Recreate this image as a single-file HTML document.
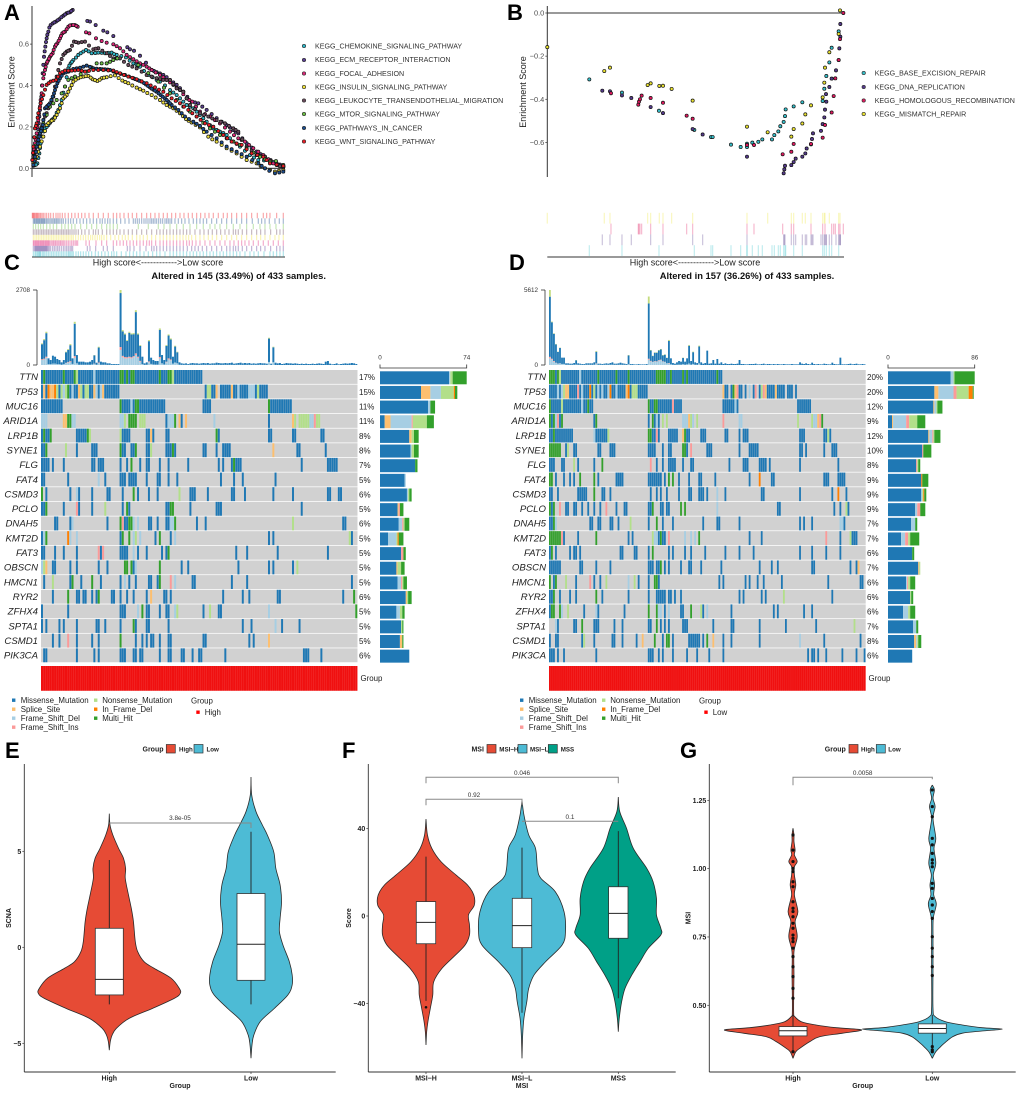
<!DOCTYPE html>
<html lang="en">
<head>
<meta charset="utf-8">
<title>Multi-panel enrichment, oncoplot and violin figure</title>
<style>
html,body{margin:0;padding:0;background:#fff;}
svg{display:block;font-family:"Liberation Sans",sans-serif;filter:blur(.3px);}
.letter{font-size:22px;font-weight:700;fill:#000;}
.leg{font-size:7.1px;fill:#333;}
.axt{font-size:9px;fill:#222;}
.tick{font-size:7.4px;fill:#4d4d4d;text-anchor:end;}
.onc{font-size:7.9px;fill:#222;}
.ttl{font-size:9.4px;font-weight:700;fill:#111;text-anchor:middle;}
.b7{font-size:7px;font-weight:700;fill:#222;}
.v6{font-size:6.2px;font-weight:700;fill:#222;}
.p{font-size:6.4px;fill:#333;text-anchor:middle;}
</style>
</head>
<body>
<svg id="fig" xmlns="http://www.w3.org/2000/svg" width="1020" height="1093" viewBox="0 0 1020 1093">
<rect width="1020" height="1093" fill="#fff"/>

<g>
<text class="letter" x="4" y="20">A</text>
<text class="letter" x="507" y="20">B</text>
<text class="letter" x="4" y="270">C</text>
<text class="letter" x="509" y="270">D</text>
<text class="letter" x="5" y="758">E</text>
<text class="letter" x="342" y="758">F</text>
<text class="letter" x="680" y="758">G</text>
</g>

<g id="panelA">
<text class="axt" transform="translate(14.5,92) rotate(-90)" text-anchor="middle">Enrichment Score</text>
<text class="axt" x="158" y="265.5" text-anchor="middle">High score&lt;------------&gt;Low score</text>
<g>
<text class="leg" x="315" y="48.5">KEGG_CHEMOKINE_SIGNALING_PATHWAY</text>
<text class="leg" x="315" y="62">KEGG_ECM_RECEPTOR_INTERACTION</text>
<text class="leg" x="315" y="76">KEGG_FOCAL_ADHESION</text>
<text class="leg" x="315" y="89.5">KEGG_INSULIN_SIGNALING_PATHWAY</text>
<text class="leg" x="315" y="103">KEGG_LEUKOCYTE_TRANSENDOTHELIAL_MIGRATION</text>
<text class="leg" x="315" y="116.5">KEGG_MTOR_SIGNALING_PATHWAY</text>
<text class="leg" x="315" y="130.5">KEGG_PATHWAYS_IN_CANCER</text>
<text class="leg" x="315" y="144">KEGG_WNT_SIGNALING_PATHWAY</text>
</g>
</g>

<g id="panelB">
<text class="axt" transform="translate(526,92) rotate(-90)" text-anchor="middle">Enrichment Score</text>
<text class="axt" x="695" y="265.5" text-anchor="middle">High score&lt;------------&gt;Low score</text>
<g>
<text class="leg" x="874.7" y="75.5">KEGG_BASE_EXCISION_REPAIR</text>
<text class="leg" x="874.7" y="89.5">KEGG_DNA_REPLICATION</text>
<text class="leg" x="874.7" y="103">KEGG_HOMOLOGOUS_RECOMBINATION</text>
<text class="leg" x="874.7" y="116.5">KEGG_MISMATCH_REPAIR</text>
</g>
</g>

<g id="panelC">
<text class="ttl" x="238.7" y="279">Altered in 145 (33.49%) of 433 samples.</text>
<text class="onc" x="360.5" y="681">Group</text>
<g>
<rect x="12" y="698.5" width="3.4" height="3.4" fill="#1F78B4"/>
<rect x="12" y="707.5" width="3.4" height="3.4" fill="#FDBF6F"/>
<rect x="12" y="716.5" width="3.4" height="3.4" fill="#A6CEE3"/>
<rect x="12" y="725.5" width="3.4" height="3.4" fill="#FB9A99"/>
<rect x="94" y="698.5" width="3.4" height="3.4" fill="#B2DF8A"/>
<rect x="94" y="707.5" width="3.4" height="3.4" fill="#FF7F00"/>
<rect x="94" y="716.5" width="3.4" height="3.4" fill="#33A02C"/>
<text class="onc" x="20.7" y="703">Missense_Mutation</text>
<text class="onc" x="20.7" y="712">Splice_Site</text>
<text class="onc" x="20.7" y="721">Frame_Shift_Del</text>
<text class="onc" x="20.7" y="730">Frame_Shift_Ins</text>
<text class="onc" x="102.2" y="703">Nonsense_Mutation</text>
<text class="onc" x="102.2" y="712">In_Frame_Del</text>
<text class="onc" x="102.2" y="721">Multi_Hit</text>
<text class="onc" x="191" y="703.5">Group</text>
<rect x="196.3" y="710.5" width="3.4" height="3.4" fill="#f00"/>
<text class="onc" x="204.7" y="715">High</text>
</g>
</g>

<g id="panelD">
<text class="ttl" x="747" y="279">Altered in 157 (36.26%) of 433 samples.</text>
<text class="onc" x="868.5" y="681">Group</text>
<g>
<rect x="520" y="698.5" width="3.4" height="3.4" fill="#1F78B4"/>
<rect x="520" y="707.5" width="3.4" height="3.4" fill="#FDBF6F"/>
<rect x="520" y="716.5" width="3.4" height="3.4" fill="#A6CEE3"/>
<rect x="520" y="725.5" width="3.4" height="3.4" fill="#FB9A99"/>
<rect x="602" y="698.5" width="3.4" height="3.4" fill="#B2DF8A"/>
<rect x="602" y="707.5" width="3.4" height="3.4" fill="#FF7F00"/>
<rect x="602" y="716.5" width="3.4" height="3.4" fill="#33A02C"/>
<text class="onc" x="528.7" y="703">Missense_Mutation</text>
<text class="onc" x="528.7" y="712">Splice_Site</text>
<text class="onc" x="528.7" y="721">Frame_Shift_Del</text>
<text class="onc" x="528.7" y="730">Frame_Shift_Ins</text>
<text class="onc" x="610.2" y="703">Nonsense_Mutation</text>
<text class="onc" x="610.2" y="712">In_Frame_Del</text>
<text class="onc" x="610.2" y="721">Multi_Hit</text>
<text class="onc" x="699" y="703.5">Group</text>
<rect x="704.3" y="710.5" width="3.4" height="3.4" fill="#f00"/>
<text class="onc" x="712.7" y="715">Low</text>
</g>
</g>

<g id="panelE">
<text class="b7" x="153" y="751.5" text-anchor="middle">Group</text>
<rect x="166.3" y="744.5" width="9" height="8.5" fill="#E64B35" stroke="#333" stroke-width=".7"/>
<text class="v6" x="179" y="751.3">High</text>
<rect x="194" y="744.5" width="9" height="8.5" fill="#4DBBD5" stroke="#333" stroke-width=".7"/>
<text class="v6" x="206.5" y="751.3">Low</text>
<text class="b7" x="180" y="1088" text-anchor="middle">Group</text>
<text class="b7" transform="translate(11,918) rotate(-90)" text-anchor="middle">SCNA</text>
</g>

<g id="panelF">
<text class="b7" x="477.7" y="751.5" text-anchor="middle">MSI</text>
<rect x="487" y="744.5" width="9" height="8.5" fill="#E64B35" stroke="#333" stroke-width=".7"/>
<text class="v6" x="499.3" y="751.3">MSI−H</text>
<rect x="518" y="744.5" width="9" height="8.5" fill="#4DBBD5" stroke="#333" stroke-width=".7"/>
<text class="v6" x="530" y="751.3">MSI−L</text>
<rect x="548.3" y="744.5" width="9" height="8.5" fill="#00A087" stroke="#333" stroke-width=".7"/>
<text class="v6" x="560.7" y="751.3">MSS</text>
<text class="b7" x="522" y="1088" text-anchor="middle">MSI</text>
<text class="b7" transform="translate(351,918) rotate(-90)" text-anchor="middle">Score</text>
</g>

<g id="panelG">
<text class="b7" x="835.3" y="751.5" text-anchor="middle">Group</text>
<rect x="849" y="744.5" width="9" height="8.5" fill="#E64B35" stroke="#333" stroke-width=".7"/>
<text class="v6" x="861" y="751.3">High</text>
<rect x="876.3" y="744.5" width="9" height="8.5" fill="#4DBBD5" stroke="#333" stroke-width=".7"/>
<text class="v6" x="888.3" y="751.3">Low</text>
<text class="b7" x="862.7" y="1088" text-anchor="middle">Group</text>
<text class="b7" transform="translate(690.5,918) rotate(-90)" text-anchor="middle">MSI</text>
</g>
</svg>

<script>
/* ---------- Panel A data: [gene rank, enrichment score] ---------- */
const chemokineScores=[[4,.013],[9,.016],[16,.024],[22,.072],[26,.121],[31,.153],[39,.193],[49,.209],[59,.233],[69,.25],[79,.282],[89,.33],[99,.395],[109,.483],[116,.507],[124,.523],[139,.548],[154,.564],[162,.572],[179,.556],[199,.559],[219,.556],[239,.559],[254,.548],[282,.536],[304,.507],[324,.491],[349,.451],[374,.427],[384,.419],[414,.378],[434,.354],[454,.322],[464,.306],[484,.29],[504,.258],[524,.225],[544,.193],[564,.177],[584,.161],[604,.129],[624,.105],[654,.064],[679,.04],[714,.035],[734,.024],[754,.008]];
const chemokineMore=[[12,.018],[19,.05],[24,.098],[35,.178],[44,.2],[54,.22],[64,.24],[74,.268],[84,.305],[94,.365],[104,.44],[112,.496],[120,.515],[132,.535],[146,.556],[170,.565],[190,.557],[209,.558],[229,.558],[246,.552],[268,.542],[293,.52],[314,.5],[336,.47],[362,.44],[399,.4],[424,.366],[444,.338],[474,.298],[494,.274],[514,.242],[534,.208],[554,.185],[574,.17],[594,.145],[614,.118],[639,.085],[666,.052],[696,.038],[724,.03],[744,.016]];
const ecmScores=[[4,.024],[8,.072],[12,.121],[16,.169],[20,.217],[24,.282],[28,.346],[32,.459],[36,.539],[40,.588],[44,.628],[49,.66],[56,.692],[62,.7],[72,.709],[82,.72],[94,.737],[104,.749],[114,.754],[122,.765],[166,.712],[174,.709],[191,.692],[214,.665],[226,.657],[244,.639],[286,.585],[294,.575],[306,.568],[324,.544],[359,.475],[374,.464],[394,.451],[414,.427],[434,.403],[454,.37],[479,.322],[499,.314],[524,.282],[554,.242],[584,.209],[604,.185],[619,.169],[644,.121],[674,.081],[699,.056],[734,.024],[754,.011]];
const ecmMore=[[10,.096],[14,.145],[18,.19],[22,.25],[26,.315],[30,.4],[34,.5],[38,.565],[42,.61],[46,.645],[52,.68],[67,.705],[77,.715],[88,.73],[99,.743],[109,.752],[118,.76],[342,.51],[366,.47],[384,.458],[404,.44],[424,.415],[444,.387],[466,.345],[489,.318],[511,.298],[539,.262],[569,.225],[594,.197],[611,.177],[631,.145],[659,.1],[686,.068],[716,.04],[744,.018]];
const focalScores=[[4,.072],[9,.121],[14,.169],[19,.233],[24,.298],[29,.362],[34,.435],[39,.475],[44,.507],[49,.523],[54,.539],[62,.556],[69,.588],[76,.604],[84,.628],[91,.652],[99,.66],[109,.684],[119,.692],[129,.692],[137,.684],[162,.657],[172,.652],[192,.628],[209,.615],[224,.607],[244,.599],[264,.58],[284,.548],[304,.527],[324,.507],[344,.491],[359,.475],[384,.451],[404,.427],[424,.403],[444,.378],[464,.338],[481,.322],[504,.274],[534,.25],[564,.217],[594,.177],[619,.145],[639,.129],[664,.097],[694,.064],[724,.024],[754,.008]];
const focalMore=[[6,.09],[11,.14],[16,.2],[21,.265],[26,.33],[31,.4],[36,.455],[41,.49],[46,.515],[51,.53],[58,.548],[65,.572],[72,.597],[80,.616],[87,.64],[95,.657],[104,.672],[114,.69],[124,.692],[133,.688],[254,.59],[274,.565],[294,.537],[314,.517],[334,.5],[352,.483],[371,.463],[394,.44],[414,.415],[434,.39],[454,.358],[472,.33],[492,.298],[519,.262],[549,.233],[579,.197],[606,.16],[629,.137],[651,.113],[679,.08],[709,.044],[739,.016]];
const insulinScores=[[4,.024],[14,.056],[24,.105],[34,.153],[44,.209],[54,.225],[64,.233],[74,.258],[84,.29],[94,.338],[104,.354],[114,.386],[124,.419],[139,.435],[154,.443],[169,.446],[182,.43],[196,.422],[209,.435],[224,.44],[249,.449],[271,.424],[289,.411],[314,.39],[334,.375],[359,.354],[384,.33],[404,.306],[424,.29],[444,.266],[462,.238],[479,.221],[504,.198],[529,.153],[554,.129],[584,.097],[614,.072],[644,.04],[674,.024],[699,0],[729,-.016],[754,-.008]];
const insulinMore=[[9,.04],[19,.08],[29,.13],[39,.18],[49,.218],[59,.23],[69,.245],[79,.274],[89,.314],[99,.346],[109,.37],[119,.402],[131,.428],[146,.44],[161,.445],[176,.438],[189,.426],[203,.428],[216,.438],[236,.445],[260,.436],[280,.417],[301,.4],[324,.382],[346,.364],[371,.342],[394,.318],[414,.298],[434,.278],[453,.252],[470,.23],[491,.21],[516,.175],[541,.14],[569,.113],[599,.085],[629,.056],[659,.032],[686,.012],[714,-.008],[741,-.012]];
const leukocyteScores=[[4,.056],[14,.105],[24,.169],[34,.233],[44,.266],[54,.314],[64,.346],[74,.443],[84,.507],[94,.548],[104,.564],[114,.572],[126,.612],[139,.607],[159,.612],[184,.575],[199,.58],[224,.556],[244,.531],[264,.531],[289,.499],[314,.483],[344,.451],[374,.435],[394,.427],[414,.427],[434,.386],[454,.37],[474,.306],[504,.266],[529,.25],[554,.233],[579,.217],[604,.193],[619,.177],[644,.105],[674,.064],[699,.056],[734,.016],[754,.005]];
const leukocyteMore=[[9,.08],[19,.137],[29,.2],[39,.25],[49,.29],[59,.33],[69,.395],[79,.475],[89,.528],[99,.556],[109,.568],[120,.592],[132,.61],[149,.61],[171,.593],[191,.578],[211,.568],[234,.543],[254,.531],[276,.515],[301,.491],[329,.467],[359,.443],[384,.431],[404,.427],[424,.406],[444,.378],[464,.338],[489,.286],[516,.258],[541,.241],[566,.225],[591,.205],[611,.185],[631,.14],[659,.085],[686,.06],[716,.036],[744,.01]];
const mtorScores=[[4,.072],[19,.153],[34,.217],[54,.298],[74,.33],[89,.362],[109,.427],[129,.443],[164,.467],[194,.507],[224,.507],[244,.523],[256,.531],[319,.499],[379,.419],[414,.362],[454,.298],[494,.25],[534,.193],[564,.161],[604,.129],[644,.097],[684,.056],[714,.032],[732,.035],[754,.016]];
const mtorMore=[[11,.11],[26,.185],[44,.258],[64,.314],[99,.395],[119,.435],[146,.455],[179,.487],[209,.507],[234,.515],[349,.46],[396,.39],[434,.33],[474,.274],[514,.22],[549,.177],[584,.145],[624,.113],[664,.076],[699,.044]];
const cancerScores=[[4,.016],[9,.056],[14,.105],[19,.137],[24,.169],[29,.193],[34,.233],[39,.29],[46,.301],[54,.314],[62,.346],[69,.378],[76,.411],[84,.435],[94,.459],[109,.467],[124,.48],[144,.486],[164,.496],[184,.483],[204,.48],[219,.478],[234,.475],[254,.462],[279,.451],[304,.435],[316,.427],[329,.419],[342,.405],[354,.391],[364,.38],[374,.37],[386,.354],[399,.338],[409,.322],[419,.306],[439,.282],[459,.25],[484,.225],[504,.205],[524,.177],[554,.145],[584,.105],[614,.08],[644,.056],[679,.024],[699,0],[712,-.012],[729,-.024],[742,-.02],[754,-.016]];
const cancerMore=[[7,.035],[12,.08],[17,.12],[22,.153],[27,.18],[32,.21],[37,.26],[43,.296],[50,.307],[58,.33],[66,.362],[73,.395],[80,.423],[89,.447],[101,.463],[116,.473],[134,.483],[154,.491],[174,.49],[194,.481],[211,.479],[227,.477],[244,.468],[266,.456],[291,.443],[310,.431],[322,.423],[336,.412],[348,.398],[359,.385],[369,.375],[380,.362],[392,.346],[404,.33],[414,.314],[429,.294],[449,.266],[471,.238],[494,.215],[514,.19],[539,.161],[569,.125],[599,.092],[629,.068],[661,.04],[689,.012]];
const wntScores=[[1,.04],[4,.105],[9,.193],[14,.217],[19,.266],[26,.314],[34,.354],[44,.403],[56,.419],[72,.427],[84,.459],[99,.472],[119,.472],[139,.475],[159,.467],[184,.475],[214,.475],[244,.472],[264,.459],[289,.443],[314,.43],[344,.411],[369,.391],[394,.37],[419,.338],[444,.314],[469,.282],[494,.25],[519,.217],[544,.201],[574,.161],[599,.129],[629,.113],[659,.072],[694,.056],[714,.024],[754,.011]];
const wntMore=[[3,.075],[7,.15],[12,.205],[17,.245],[23,.29],[30,.334],[39,.38],[50,.411],[64,.423],[78,.443],[91,.465],[109,.472],[129,.473],[149,.471],[171,.471],[199,.475],[229,.473],[254,.465],[276,.451],[301,.437],[329,.42],[356,.4],[381,.38],[406,.354],[431,.326],[456,.298],[481,.266],[506,.234],[531,.209],[559,.18],[586,.145],[614,.12],[644,.092],[676,.064],[704,.04],[734,.018]];
const seriesA=[chemokineScores.concat(chemokineMore),ecmScores.concat(ecmMore),focalScores.concat(focalMore),insulinScores.concat(insulinMore),leukocyteScores.concat(leukocyteMore),mtorScores.concat(mtorMore),cancerScores.concat(cancerMore),wntScores.concat(wntMore)];
const colorsA=["#2fb7c9","#5b3f92","#e0277a","#efe13c","#6a4a5c","#6cbf45","#1b4c8c","#ee1c25"];
const ticksA=[0,.2,.4,.6];

/* ---------- Panel B data ---------- */
const baseScores=[[126,-.308],[224,-.369],[335,-.453],[441,-.542],[491,-.575],[496,-.575],[551,-.61],[580,-.621],[599,-.606],[599,-.621],[615,-.601],[633,-.597],[645,-.586],[674,-.586],[681,-.566],[693,-.549],[699,-.525],[709,-.505],[713,-.478],[715,-.447],[739,-.433],[765,-.414],[826,-.408],[831,-.351],[837,-.292],[846,-.229],[853,-.161],[874,-.085]];
const dnaScores=[[165,-.36],[188,-.363],[224,-.382],[252,-.394],[310,-.436],[347,-.464],[436,-.538],[466,-.563],[599,-.666],[709,-.743],[711,-.725],[713,-.708],[732,-.705],[739,-.691],[745,-.675],[765,-.666],[774,-.651],[778,-.628],[791,-.609],[794,-.584],[797,-.558],[821,-.546],[826,-.515],[831,-.484],[833,-.448],[837,-.411],[836,-.376],[846,-.343],[853,-.304],[866,-.266],[874,-.218],[876,-.164],[879,-.11],[879,-.051]];
const hrScores=[[191,-.372],[273,-.425],[275,-.411],[278,-.4],[283,-.383],[310,-.394],[347,-.416],[418,-.476],[436,-.49],[599,-.612],[620,-.612],[706,-.655],[732,-.643],[739,-.607],[791,-.607],[826,-.578],[833,-.519],[853,-.461],[859,-.385],[864,-.303],[874,-.218],[878,-.121],[888,0]];
const mismatchScores=[[0,-.158],[171,-.269],[188,-.253],[301,-.334],[310,-.326],[336,-.338],[347,-.337],[373,-.352],[436,-.406],[599,-.527],[661,-.553],[732,-.573],[739,-.538],[765,-.512],[774,-.47],[791,-.428],[826,-.391],[831,-.323],[833,-.253],[846,-.182],[874,-.097],[878,.012]];
const seriesB=[baseScores,dnaScores,hrScores,mismatchScores];
const colorsB=["#35bfca","#553a8c","#e0195f","#ebe331"];
const ticksB=[0,-.2,-.4,-.6];

/* ---------- Oncoplot data ---------- */
const genes=["TTN","TP53","MUC16","ARID1A","LRP1B","SYNE1","FLG","FAT4","CSMD3","PCLO","DNAH5","KMT2D","FAT3","OBSCN","HMCN1","RYR2","ZFHX4","SPTA1","CSMD1","PIK3CA"];
const pctC=[17,15,11,11,8,8,7,5,6,5,6,5,5,5,5,6,5,5,5,6];
const pctD=[20,20,12,9,12,10,8,9,9,9,7,7,6,7,6,6,6,7,8,6];
const typeOrder=["b","o","l","r","n","d","g"];
const typeColors={b:"#1F78B4",o:"#FDBF6F",l:"#A6CEE3",r:"#FB9A99",n:"#B2DF8A",d:"#FF7F00",g:"#33A02C"};

const matrixC=[
"b0 g1 b2-9 g10 b11-14 g15 n16 b17-23 l24 b25-35 g36-37 b38 g39 b40 g41-42 b43-53 g54 b55-57 g58-59 n60 b61-73",
"b0 o1 b2 d3 o4-5 d6 n7 b8 n9 l10 n11 g12 b13 l14 b15-16 o17 n18 b19 n20-21 b22-23 o24 l25 b26 l27 o28 b29-35 b75 n76-77 b78-79 o80 b82-86 o87 b88-89 l90 b91-94 l95-97 b98 n99 b100-103",
"b0-9 g36 b37-40 l41 b42 g43-44 b45-56 b74-77 g104 b105-114",
"l0-2 o10-11 g12-13 l14-15 l36-37 n38 g40-43 n45-47 b57 l58-60 g61 o63 b64 o66 l79 b104 o115 n116 n118-122 l123-124 r125 n126-127",
"b0 g1 b2-3 g4 b16-20 g21 n22 n36 b37-40 b48-49 o50 b51 b57-58 g80 b81 b104-105 b115-116 b128-129",
"b0-1 g2 n11 b16 b23-25 g36 b37-38 b41-42 g43 b48-49 n50 b57-58 b59 g60 b61 b74-75 b80 b83-86 o106 b117-118 b130",
"b0-3 b5 b10 b23-24 b26-28 b36 b39 g41 b45 b48-49 b54 b58 b67 b81 b83 b87 g88 b89-91 b119 b131-135",
"b0-1 b12 l26 b29 b36-38 b40-43 b48 b53-54 b58 b62 b82 b88 b92 b107",
"g0 b2 b13 l16 b17 b23 b30-31 b37 g42 b44 b49 b53 n63 b68-70 b76 b87-88 b93 b106 b115 b131-132 b136-137",
"b0-1 g2 b10 r16 b17 b23 n29 b37 g39 b40 b57-58 g59-60 b68 b80-82 b119",
"b6-7 b13 l14 b30 g36 r37 b38-39 g40-41 l42 l44 b49-50 b53 b57-58 l59-60 g61 b71 b75 n115 b138-139",
"b0 l1 g2 d12 l13 l16 b36 g37 g40 l42 n43 l45 b52 g54 b59 l61 b104 b106 n141 b142",
"b0-1 b6 b10 b16 r26 b27 r28 b36-39 l42 b44 b48 b55 b57 g58 b89 b94 b108 b131",
"l0 n1 o2 b5-6 b13 b16 b26 b30 g38-39 g41 b42 l43 g54 b64 b67 b90 b104 b106 b115 n117",
"b1 n5 b13 g14 b18 g23 b27 b36 l38 b40 b43 b49-50 b53 g54 r59 l61 b69-70 b87 b94 b142",
"b5 g12 b16-17 b19-20 b23 b25 g26 b32-33 b36 b39 b42 b48 o50 b56-57 b59 b83 b92 b95 b108-109 b138 g143",
"b0 b12 b36-38 l44 g46 b48-49 b54 b57-58 l61 n62 b74 n77 b81-82 l104 g144",
"b0 b2 b8 b10 b16 b25-26 b29 b36 g42 b43 b48-49 b58 b92 b96 l107 b110 b118",
"b5 b8 r12 b16 b23 b26 g36 b43 b46 b48 b50-51 b54 b58-59 b74-75 b95 b97 o104",
"b1-2 b16 b24 b26 b36-38 b42-43 b45-46 b54 b58-59 b64-65 b69 b72-73 b84 b120-122 b128"
];
const matrixD=[
"g0-2 b3 g4 n5 b6-14 l15 b16-23 g24 b25-32 g33 b34-38 g39 b40-52 g53-57 b58-59 g60 b61-65 g66 b67 g68 b69-82 g83 b84-85",
"b0-3 l4 b5 l6 n7 o8-9 b10-13 r14 b15 l16 b17-19 d20 b21 n22 b23 l24 b25 l26 b27-28 l29 d30 b31-32 l33 b34-37 o38 d39 b40 n41-43 b44-48 o86 b87-88 b90 g91 o92 r93 b94-95 b97 l99 b101 r102 b104 n105 r106 o107 b108-111 o112 b113-116 b118-120 b122",
"g0 b1-5 n6 b7-15 l16 b17-18 g19 b20-21 g49 b50-51 g52-53 b54-60 r61 b62-65 b86-91 l92 b93 b123-129",
"g0 b1 g2 l3 r4 b5 g6 b22 g23 b49 g51 b52 l53 b54 n56 n58 l66-68 o69 n70 l71 n73 r86 l94-95 n123 n130 l131-132 o133 r134 g135",
"b0-1 g2 b3-11 l22 b23 b24-28 n29 g49-50 b51-52 r53 b54 b59-63 o66 g67 b68-69 b75-77 b87-88 b94 b96-98 b124-126 b136-137 n138 b139",
"g0-5 b8 n9 b12-13 b24-25 b30-32 b49-52 b56 b59-60 g66-67 b68 r70 b78-80 b94 b99-103 b124-125 b127 b136 b140-142",
"b0-2 b6-7 n12 b14 b22 g26 r50 b53 b56 b59-62 b66 b70-71 b89 b96-98 b104-107 b109 b124 b143",
"g0-1 b3 b7 b10 b12 g15 g22 b24 b33-36 b49-55 b57 g59 g61 b64 b69 b74-75 b82 b99 d104 b110-111 b136-138 b143-146",
"b0-1 b4 b14-18 g22 b26-27 b30 b50 b53 b55 b58 b64 b69-70 b74-76 b78 l83 b87 b105-106 b124 b140 d143 b147",
"g0 b1 g2 r5 b8-9 b12-13 b16 b19 b22 b25 r28 b33 b37-38 b49-50 g51 b55-56 b58-59 g65 g67 l83 b113-114 b141 b144 n147 b148",
"b0-1 g2 l3 b20-21 b24-25 b30-31 b34 n40 b49 g53 b56 b61 b76 b83-84 b94 b124 b126 b130 l144-145 b146",
"g0-5 r6 b7 b14 g23 b39 b41 n51 l52-53 b54 g55 b56-57 r59 l67 l70 l72 g74 b99 b105 r137 b144 n149 b150-152",
"b0 g1 b3 b10 b12-13 b15 b35-36 b42-43 b49 g51 b59 b61 b67 b70 b77 b87 b94 b101 b124 b130 b137 b144",
"b0-5 b15-16 b23 b30 b49-51 b53-54 g55 b57 b59 b65 b69-70 b75 b85 b104 b110 b113 b130-131 b149 b152 o153",
"g0 b2 g3 n8 b13 r20 b22 b25 n28 l39 n42 b44 b49 g52-53 b54 b84 b86 b97 b99 b103 b106 b115 b138 b154-155",
"b0-1 g2 b5 b10 b13 g23 b26 b39 b49 b53-57 b59-60 b62 b65 b94 b96 b105 b107 n116 b140",
"b0 g1-2 g5 l6 n9 b17 l23 b24 b37 g49 g53 l54-55 b57 l59 b65-66 g70 n75 b76 l78 b90 b111 b113 b126 b130",
"l3 b4 b12-13 g16 b22-24 b32 b36 b49-50 g53 b55 b57 b59 b66-68 b81 b90-91 b104 b117 b132 n151",
"b0 b3-4 b16 n17 b22 b31-32 b36 b43 o46 g52 b56 g58-59 b61 b69-74 b76 g78 o81 b86 b90 b104 l124 b136 b154",
"b0-2 b4 b7 b23 b49-51 b54 b56 b61 b68 b73 b79 b86 b128 b130-131 b133 b137 b145 b152 b156"
];

/* gene totals per type: missense, splice, fs-del, fs-ins, nonsense, in-frame, multi-hit */
const geneStackC=[[59,0,1,0,2,0,12],[35,8,9,0,11,1,2],[41,0,2,0,0,0,4],[4,5,18,1,12,0,6],[25,2,0,0,2,0,4],[26,0,1,0,2,0,4],[30,0,0,0,0,0,2],[21,0,1,0,0,0,0],[23,0,1,0,1,0,2],[15,1,0,1,0,0,3],[16,0,3,1,1,0,4],[7,0,7,0,1,1,4],[18,0,0,2,0,0,2],[14,1,0,0,3,0,3],[15,0,3,1,1,0,3],[22,1,0,0,1,0,3],[14,0,3,0,2,0,2],[18,0,0,0,1,0,1],[17,2,0,0,0,0,1],[25,0,0,0,0,0,0]];
const geneStackD=[[62,0,3,0,1,0,20],[46,4,15,3,12,4,1],[45,1,2,0,1,0,5],[4,1,13,3,8,0,8],[40,1,3,1,1,0,6],[34,0,0,1,0,0,8],[28,0,0,1,1,0,2],[33,0,0,0,0,1,6],[33,0,1,0,1,1,2],[27,0,2,3,0,0,5],[23,0,4,0,0,0,2],[13,0,4,3,2,0,9],[24,0,0,0,0,0,2],[30,1,0,0,1,0,0],[18,0,1,1,2,0,5],[22,0,0,0,1,0,2],[15,0,5,0,2,0,5],[25,0,3,0,0,0,2],[26,2,1,0,1,0,3],[24,0,0,0,0,0,0]];

/* per-sample mutation burden: total, frame-shift deletions, frame-shift insertions, capped minor classes */
const tmbC=[780,936,1200,240,180,336,300,216,180,96,180,480,576,756,240,1560,360,120,120,120,96,96,120,180,360,84,660,120,96,96,60,60,36,36,36,36,2708,1260,1140,900,1200,1140,1152,1980,1140,720,300,60,96,900,264,180,144,144,1320,360,180,720,1104,960,300,696,480,96,60,48,60,36,60,72,60,60,48,60,72,60,72,48,60,60,84,72,60,60,72,60,72,84,48,60,72,84,60,72,60,72,48,60,48,60,72,60,60,48,984,48,660,84,60,72,36,48,72,60,60,48,60,48,36,48,36,48,36,36,48,36,48,60,48,36,120,144,48,24,36,60,24,36,48,60,48,60,72,60,36];
const fsdC=[180,200,260,30,30,50,50,30,30,10,30,70,90,110,40,260,60,10,10,10,10,10,10,20,40,10,70,10,10,10,5,5,5,5,5,5,540,280,240,240,260,240,280,360,260,120,30,5,10,100,40,20,15,15,240,60,20,100,200,170,50,90,60,10,5,5,5,5,5,5,5,5,5,5,5,5,5,5,5,5,5,5,5,5,5,5,5,5,5,5,5,5,5,5,5,5,5,5,5,5,5,5,5,5,110,5,100];
const fsiC=[30,30,40,0,0,0,0,0,0,0,0,10,20,30,0,60,0,0,0,0,0,0,0,0,10,0,20,0,0,0,0,0,0,0,0,0,110,50,50,40,40,40,40,60,40,30,0,0,0,30,0,0,0,0,50,0,0,20,40,30];
const capC=[30,40,50,0,0,0,0,0,0,0,0,20,30,40,0,70,0,0,0,0,0,0,0,0,10,0,30,0,0,0,0,0,0,0,0,0,110,50,40,30,40,40,40,70,40,30,0,0,0,40,0,0,0,0,50,0,0,30,40,40,0,30,20,0,0,0,0,0,0,0,0,0,0,0,0,0,0,0,0,0,0,0,0,0,0,0,0,0,0,0,0,0,0,0,0,0,0,0,0,0,0,0,0,0,30,0,20];
const tmbD=[5612,3250,2375,1575,1000,1300,550,550,125,125,100,100,150,375,125,100,75,75,125,125,125,125,200,1050,100,100,75,100,125,100,150,200,100,100,125,175,125,100,75,750,75,75,50,50,75,50,50,50,75,5125,1125,700,950,950,1125,1200,750,800,550,1875,500,150,100,200,300,250,550,250,500,1500,300,1000,200,150,1450,200,100,150,1075,100,125,375,100,450,100,200,75,125,75,75,100,75,75,100,375,75,75,50,50,75,75,75,100,50,50,75,100,50,75,75,50,75,50,75,50,50,75,50,50,50,75,50,50,50,200,100,75,125,75,50,175,75,50,75,50,50,100,75,50,50,175,75,50,50,550,50,50,50,75,100,50,75,100,50,50,75,50];
const fsdD=[500,400,250,150,100,120,80,80,20,20,15,15,20,40,15,15,10,10,15,15,15,15,25,100,15,15,10,15,15,15,20,25,15,15,15,20,15,15,10,60,10,10,8,8,10,8,8,8,10,400,270,220,260,240,320,360,240,220,130,120,50,15,10,20,30,25,60,25,50,110,30,80,20,15,120];
const fsiD=[110,70,50,20,10,10,0,0,0,0,0,0,0,0,0,0,0,0,0,0,0,0,0,20,0,0,0,0,0,0,0,0,0,0,0,0,0,0,0,0,0,0,0,0,0,0,0,0,0,70,40,20,30,30,40,40,30,20,0,30];
const capD=[500,50,40,30,20,20,0,0,0,0,0,0,0,20,0,0,0,0,0,0,0,0,0,60,0,0,0,0,0,0,0,0,0,0,0,0,0,0,0,30,0,0,0,0,0,0,0,0,0,520,40,30,30,30,40,40,30,30,20,80,0,0,0,0,0,0,20,0,0,60,0,40,0,0,60];

/* ---------- Violin data: value grid + relative density + five-number summaries ---------- */
const eHighY=[6.96,6.37,5.85,5.16,4.64,4.11,3.59,2.73,2.03,1.34,.3,-.23,-.75,-1.09,-1.61,-2.14,-2.4,-2.66,-3.18,-3.7,-4.22,-4.57,-4.91,-5.36];
const eHighD=[0,.01,.05,.13,.2,.23,.225,.27,.31,.34,.366,.4,.49,.63,.87,.986,1,.915,.61,.28,.1,.04,.014,0];
const eLowY=[8.87,7.93,7.07,6.37,5.85,4.98,4.11,3.25,2.38,1.51,.82,.12,-.75,-1.44,-1.96,-2.48,-3.18,-3.87,-4.57,-5.09,-5.78];
const eLowD=[0,.01,.07,.16,.23,.32,.35,.41,.43,.41,.4,.45,.54,.58,.58,.52,.33,.13,.04,.014,0];
const eBoxHigh=[-2.97,-2.48,-1.67,.99,4.55];
const eBoxLow=[-2.97,-1.72,.16,2.8,6.02];
const eTicks=[5,0,-5];

const fHY=[44.4,37.1,31,24.9,18.8,14.2,9.6,5,.5,-4.1,-8.7,-13.3,-17.9,-24,-30.1,-36.2,-42.3,-48.4,-53,-59.1];
const fHD=[0,.03,.12,.31,.62,.86,.99,1,.88,.9,.9,.81,.61,.33,.16,.14,.09,.04,.014,0];
const fLY=[53.1,46.3,37.1,31,21.8,17.3,11.1,2,-7.2,-13.3,-20.9,-27,-33.1,-39.2,-46.9,-54.5,-65.2];
const fLD=[0,.04,.14,.28,.32,.39,.69,.87,.9,.83,.49,.25,.14,.1,.04,.014,0];
const fSY=[54.5,47.8,40.2,31,21.8,15.7,8.1,.5,-5.6,-8.7,-14.8,-20.9,-27,-33.1,-39.2,-46.9,-53];
const fSD=[0,.03,.17,.31,.59,.72,.79,.79,.88,.88,.62,.45,.28,.14,.07,.02,0];
const fBoxH=[-38.9,-12.7,-2.9,6.6,27.2];
const fBoxL=[-44.3,-14.5,-4.4,8.1,31.3];
const fBoxS=[-37.7,-10.2,1.2,13.4,38.9];
const fOutliersH=[-41.8];
const fTicks=[40,0,-40];

const gHY=[1.148,1.123,1.099,1.068,1.05,1.026,1.007,.977,.94,.904,.843,.806,.751,.696,.611,.538,.471,.459,.44,.428,.418,.41,.398,.385,.367,.343,.33,.306];
const gHD=[0,.014,.014,.03,.02,.06,.02,.02,.04,.02,.07,.03,.06,.014,.014,.01,.01,.024,.12,.33,.62,.98,.71,.38,.24,.1,.04,0];
const gLY=[1.306,1.288,1.257,1.227,1.184,1.111,1.074,1.02,.977,.94,.904,.87,.818,.745,.635,.489,.459,.44,.428,.418,.413,.406,.398,.385,.361,.349,.33,.306];
const gLD=[0,.03,.01,.04,.01,.05,.024,.05,.014,.033,.02,.057,.014,.01,.01,.01,.04,.19,.43,.71,1,.71,.43,.29,.17,.12,.05,0];
const gBoxH=[.33,.388,.407,.422,.465];
const gBoxL=[.33,.398,.415,.432,.465];
const gOutliersH=[1.123,1.068,1.026,1.001,.989,.952,.934,.879,.855,.843,.824,.8,.782,.757,.745,.733,.709,.678,.641,.605,.562,.526,.33];
const gOutliersL=[1.288,1.227,1.19,1.111,1.087,1.056,1.032,1.02,1.007,.946,.928,.891,.867,.843,.818,.751,.709,.678,.641,.609,.349,.337,.33];
const gTicks=[1.25,1,.75,.5];

/* ---------- helpers ---------- */
const NS="http://www.w3.org/2000/svg";
function add(parent,tag,attrs,txt){
  const el=document.createElementNS(NS,tag);
  for(const k in attrs){el.setAttribute(k,attrs[k]);}
  if(txt!==undefined){el.textContent=txt;}
  parent.appendChild(el);
  return el;
}
function fmtMinus(s){return String(s).replace("-","−");}

/* ---------- enrichment panels ---------- */
function drawEnrichment(root,series,colors,ticks,xOf,yOf,axisX,rugTop,rugH,rugOrderTop,zeroFrom,zeroTo,legendX,legendYs,rugOpacity){
  const yAxis=add(root,"line",{x1:axisX,x2:axisX,y1:6,y2:177,stroke:"#333","stroke-width":1});
  
  
  const zero=add(root,"line",{x1:zeroFrom,x2:zeroTo,y1:yOf(0),y2:yOf(0),stroke:"#333","stroke-width":1.1});
  
  
  ticks.forEach(t=>{
    const tm=add(root,"line",{x1:axisX-2,x2:axisX,y1:yOf(t),y2:yOf(t),stroke:"#333","stroke-width":.7});
    
    
    const lb=add(root,"text",{class:"tick",x:axisX-3,y:yOf(t)+2.6},fmtMinus(t.toFixed(1)));
    
    
  });
  const base=add(root,"line",{x1:zeroFrom,x2:zeroTo,y1:257,y2:257,stroke:"#333","stroke-width":1});
  
  
  series.forEach((s,i)=>{
    const row=rugOrderTop[i];
    s.forEach(p=>{
      const tk=add(root,"rect",{x:xOf(p[0])-.6,y:rugTop+row*rugH,width:1.2,height:rugH,fill:colors[i],opacity:rugOpacity});
      
      
    });
  });
  series.forEach((s,i)=>{
    s.forEach(p=>{
      const c=add(root,"circle",{cx:xOf(p[0]),cy:yOf(p[1]),r:1.6,fill:colors[i],stroke:"#111","stroke-width":.7});
      
      
    });
  });
  legendYs.forEach((ly,i)=>{
    const k=add(root,"circle",{cx:legendX,cy:ly,r:1.7,fill:colors[i],stroke:"#333","stroke-width":.7});
    
    
  });
}
const xA=r=>32+r/760*253.3, yA=e=>168.3-e*207;
const xB=r=>547.3+r/890*296.7, yB=e=>13-e*215.7;
drawEnrichment(document.getElementById("panelA"),seriesA,colorsA,ticksA,xA,yA,32,212.8,5.5,[7,6,5,4,3,2,1,0],32,285,304,[46,60,73.5,87,100.5,114,128,141.5],.38);
drawEnrichment(document.getElementById("panelB"),seriesB,colorsB,ticksB,xB,yB,547.3,212.8,10.8,[3,2,1,0],547.3,844,863.7,[73,87,100.5,114],.3);

/* ---------- oncoplots ---------- */
function drawOnco(root,matrix,stacks,pcts,tmb,fsd,fsi,cap,n,x0,x1,axX,maxTmb,barX,barMax,barW,pctX){
  const w=(x1-x0)/n, pitch=14.65, top=370;
  const yBar=v=>365-v/maxTmb*75;
  tmb.forEach((v,i)=>{
    const f=fsd[i]||0, s=fsi[i]||0, c=cap[i]||0, x=x0+i*w;
    const b1=add(root,"rect",{x:x,y:yBar(f),width:w-.2,height:365-yBar(f),fill:"#A6CEE3"});
    
    
    if(s>0){
      const b0=add(root,"rect",{x:x,y:yBar(f+s),width:w-.2,height:yBar(f)-yBar(f+s),fill:"#FB9A99"});
      
      
    }
    const b2=add(root,"rect",{x:x,y:yBar(v-c),width:w-.2,height:Math.max(0,yBar(f+s)-yBar(v-c)),fill:"#1F78B4"});
    
    
    if(c>0){
      const b3=add(root,"rect",{x:x,y:yBar(v),width:w-.2,height:yBar(v-c)-yBar(v),fill:"#C4DC7E"});
      
      
    }
  });
  [[290,maxTmb],[365,0]].forEach(t=>{
    const tm=add(root,"line",{x1:axX-4,x2:axX,y1:t[0],y2:t[0],stroke:"#333","stroke-width":.8});
    
    
    const tl=add(root,"text",{x:axX-7,y:t[0]+2.2,"font-size":"6.3px",fill:"#333","text-anchor":"end"},t[1]);
    
    
  });
  const axl=add(root,"line",{x1:axX,x2:axX,y1:290,y2:365,stroke:"#333","stroke-width":.8});
  
  

  genes.forEach((g,ri)=>{
    const y=top+ri*pitch;
    const bg=add(root,"rect",{x:x0,y:y,width:x1-x0,height:13.9,fill:"#d1d1d1"});
    
    
    matrix[ri].split(" ").forEach(tok=>{
      const type=tok[0], rng=tok.slice(1).split("-"), a=+rng[0], b=rng.length>1?+rng[1]:a;
      for(let c=a;c<=b;c++){
        const cell=add(root,"rect",{x:x0+c*w,y:y,width:w-.22,height:13.9,fill:typeColors[type]});
        
        
      }
    });
    const lab=add(root,"text",{x:x0-3,y:y+10.2,"font-size":"9.6px","font-style":"italic",fill:"#222","text-anchor":"end"},g);
    
    
    const pl=add(root,"text",{x:pctX,y:y+10.2,"font-size":"8px",fill:"#222"},pcts[ri]+"%");
    
    
    let acc=0;
    stacks[ri].forEach((v,ti)=>{
      if(v>0){
        const seg=add(root,"rect",{x:barX+acc/barMax*barW,y:y+1.3,width:v/barMax*barW,height:13,fill:typeColors[typeOrder[ti]]});
        
        
      }
      acc+=v;
    });
  });
  const ax=add(root,"path",{d:`M${barX} 364.5V368H${barX+barW}V364.5`,fill:"none",stroke:"#333","stroke-width":.8});
  
  
  [[barX,0],[barX+barW,barMax]].forEach(t=>{
    const tl=add(root,"text",{x:t[0],y:359.5,"font-size":"6.3px",fill:"#333","text-anchor":"middle"},t[1]);
    
    
  });
  const gbg=add(root,"rect",{x:x0,y:666,width:x1-x0,height:24.7,fill:"#f56a6a"});
  
  
  for(let i=0;i<n;i++){
    const gc=add(root,"rect",{x:x0+i*w,y:666,width:w-.15,height:24.7,fill:"#f01010"});
    
    
  }
}
drawOnco(document.getElementById("panelC"),matrixC,geneStackC,pctC,tmbC,fsdC,fsiC,capC,145,41,357.5,37,2708,380,74,86.7,359);
drawOnco(document.getElementById("panelD"),matrixD,geneStackD,pctD,tmbD,fsdD,fsiD,capD,157,549,865.7,545,5612,888,86,86.7,867);

/* ---------- violins ---------- */
function smoothSide(pts){
  let d="";
  for(let i=0;i<pts.length-1;i++){
    const p0=pts[Math.max(0,i-1)],p1=pts[i],p2=pts[i+1],p3=pts[Math.min(pts.length-1,i+2)];
    d+=`C${(p1[0]+(p2[0]-p0[0])/6).toFixed(2)} ${(p1[1]+(p2[1]-p0[1])/6).toFixed(2)} ${(p2[0]-(p3[0]-p1[0])/6).toFixed(2)} ${(p2[1]-(p3[1]-p1[1])/6).toFixed(2)} ${p2[0].toFixed(2)} ${p2[1].toFixed(2)}`;
  }
  return d;
}
function drawViolin(root,cx,vals,dens,box,halfW,boxW,yOf,fill,outliers,dotR){
  const right=vals.map((v,i)=>[cx+dens[i]*halfW,yOf(v)]);
  const left=vals.map((v,i)=>[cx-dens[i]*halfW,yOf(v)]).reverse();
  const d=`M${right[0][0]} ${right[0][1]}`+smoothSide(right)+`L${left[0][0]} ${left[0][1]}`+smoothSide(left)+"Z";
  const shape=add(root,"path",{d:d,fill:fill,stroke:"#2a2a2a","stroke-width":.8});
  
  
  const wh=add(root,"line",{x1:cx,x2:cx,y1:yOf(box[4]),y2:yOf(box[0]),stroke:"#222","stroke-width":.9});
  
  
  const bx=add(root,"rect",{x:cx-boxW,y:yOf(box[3]),width:boxW*2,height:yOf(box[1])-yOf(box[3]),fill:"#fff",stroke:"#333","stroke-width":.8});
  
  
  const md=add(root,"line",{x1:cx-boxW,x2:cx+boxW,y1:yOf(box[2]),y2:yOf(box[2]),stroke:"#222","stroke-width":1});
  
  
  (outliers||[]).forEach(o=>{
    const c=add(root,"circle",{cx:cx,cy:yOf(o),r:dotR||1.3,fill:"#111"});
    
    
  });
}
function drawFrame(root,axisX,xEnd,ticks,yOf,fmt,cats){
  const a1=add(root,"line",{x1:axisX,x2:axisX,y1:764,y2:1072,stroke:"#333","stroke-width":.9});
  
  
  const a2=add(root,"line",{x1:axisX,x2:xEnd,y1:1072,y2:1072,stroke:"#333","stroke-width":.9});
  
  
  ticks.forEach(t=>{
    const m=add(root,"line",{x1:axisX-2,x2:axisX,y1:yOf(t),y2:yOf(t),stroke:"#333","stroke-width":.7});
    
    
    const l=add(root,"text",{x:axisX-3,y:yOf(t)+2.5,"font-size":"7px","font-weight":"700",fill:"#222","text-anchor":"end"},fmt(t));
    
    
  });
  cats.forEach(c=>{
    const m=add(root,"line",{x1:c[0],x2:c[0],y1:1072,y2:1074,stroke:"#333","stroke-width":.7});
    
    
    const l=add(root,"text",{x:c[0],y:1080.5,"font-size":"7px","font-weight":"700",fill:"#222","text-anchor":"middle"},c[1]);
    
    
  });
}
function drawBracket(root,x1,x2,y,dropL,dropR,label,lx,ly){
  const b=add(root,"path",{d:`M${x1} ${y+dropL}V${y}H${x2}V${y+dropR}`,fill:"none",stroke:"#888","stroke-width":1});
  
  
  const t=add(root,"text",{class:"p",x:lx,y:ly},label);
  
  
}
const rootE=document.getElementById("panelE"),rootF=document.getElementById("panelF"),rootG=document.getElementById("panelG");
const yE=v=>947.3-v*19.2, yF=v=>916-v*2.183, yG=v=>1005.3-(v-.5)*273.3;
drawFrame(rootE,24.3,335.7,eTicks,yE,t=>fmtMinus(t),[[109.3,"High"],[251,"Low"]]);
drawViolin(rootE,109.3,eHighY,eHighD,eBoxHigh,71,14,yE,"#E64B35");
drawViolin(rootE,251,eLowY,eLowD,eBoxLow,71,14,yE,"#4DBBD5");
drawBracket(rootE,109.3,251,823,0,5,"3.8e-05",180,820);

drawFrame(rootF,368.3,675.7,fTicks,yF,t=>fmtMinus(t),[[426,"MSI−H"],[522,"MSI−L"],[618.3,"MSS"]]);
drawViolin(rootF,426,fHY,fHD,fBoxH,48.3,9.7,yF,"#E64B35",fOutliersH);
drawViolin(rootF,522,fLY,fLD,fBoxL,48.3,9.7,yF,"#4DBBD5");
drawViolin(rootF,618.3,fSY,fSD,fBoxS,48.3,9.7,yF,"#00A087");
drawBracket(rootF,426,618.3,777.3,6,6,"0.046",522,775);
drawBracket(rootF,426,522,799.3,6,6,"0.92",474,797);
drawBracket(rootF,522,618.3,821.3,0,0,"0.1",570,819);

drawFrame(rootG,709.3,1015.7,gTicks,yG,t=>t.toFixed(2),[[793,"High"],[932.3,"Low"]]);
drawViolin(rootG,793,gHY,gHD,gBoxH,70,14,yG,"#E64B35",gOutliersH,1.6);
drawViolin(rootG,932.3,gLY,gLD,gBoxL,70,14,yG,"#4DBBD5",gOutliersL,1.6);
drawBracket(rootG,793,932.3,777.3,8,2,"0.0058",862.7,775);
</script>
</body>
</html>
